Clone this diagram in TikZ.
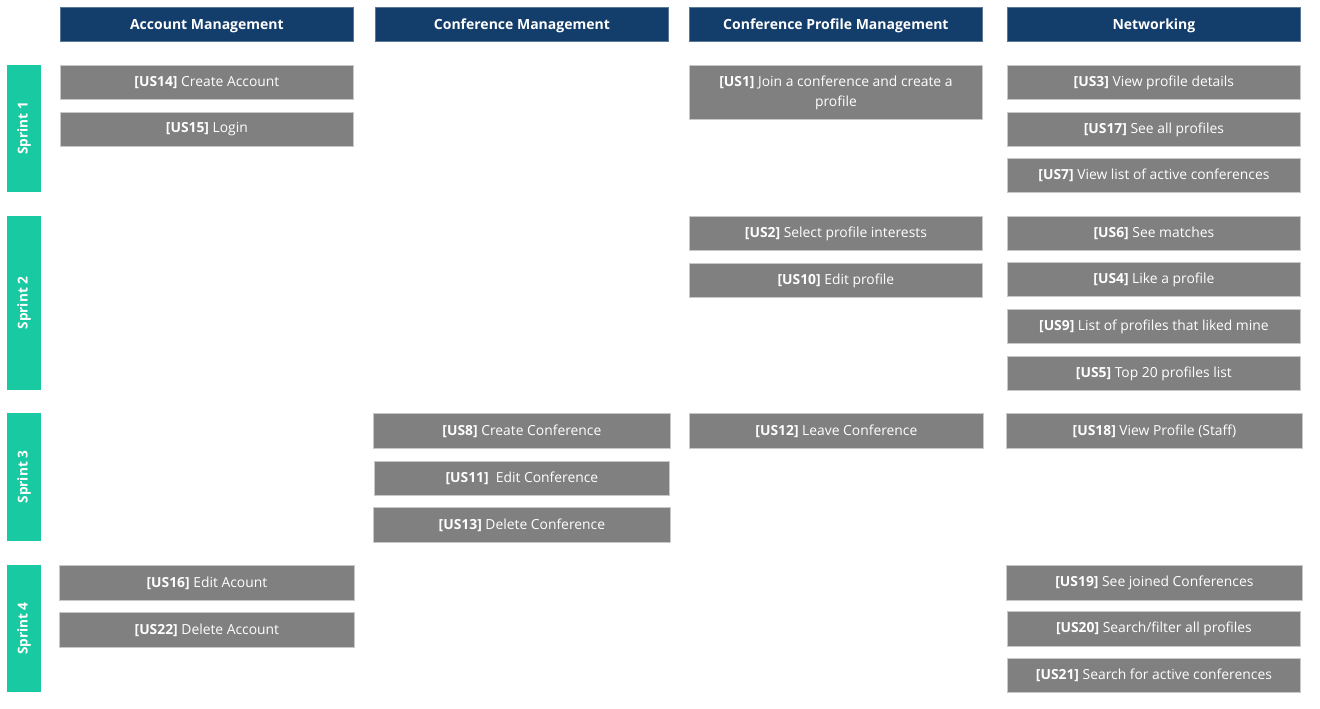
\documentclass[tikz,border=0pt]{standalone}
\usepackage{fontspec}
\setmainfont{Open Sans}
\definecolor{headblue}{HTML}{133D6B}
\definecolor{sprintgreen}{HTML}{19C9A1}
\definecolor{storygray}{HTML}{808080}
\definecolor{edgegray}{HTML}{C8C8C8}
\begin{document}
\begin{tikzpicture}[x=0.75pt,y=-0.75pt,
		head/.style={anchor=north west,fill=headblue,draw=headblue!70!white,line width=0.6pt,text=white,font=\bfseries\fontsize{10.5}{12}\selectfont,minimum width=219.75pt,minimum height=25.5pt,inner sep=0pt,text height=10pt,text depth=2.5pt},
		story/.style={anchor=north west,fill=storygray,draw=edgegray,line width=0.6pt,text=white,font=\fontsize{10.4}{15}\selectfont,minimum width=219.75pt,minimum height=25.5pt,inner sep=0pt,align=center},
		sprint/.style={fill=sprintgreen,text=white,rotate=90,font=\bfseries\fontsize{10.2}{11}\selectfont,minimum height=25.5pt,inner sep=0pt}]
				\useasboundingbox (0,0) rectangle (1320,709);
				% column heads
				\node[head] (hAcc) at (60,7) {Account Management};
				\node[head] (hConf) at (375,7) {Conference Management};
				\node[head] (hProf) at (689,7) {Conference Profile Management};
				\node[head] (hNet) at (1007,7) {Networking};
				% sprints
				\node[sprint,minimum width=95.25pt] (s1) at (24,128.5) {Sprint 1};
				\node[sprint,minimum width=130.5pt] (s2) at (24,303) {Sprint 2};
				\node[sprint,minimum width=96pt] (s3) at (24,477) {Sprint 3};
				\node[sprint,minimum width=95.25pt] (s4) at (24,628.5) {Sprint 4};
				% account management
				\node[story] (us14) at (60,65) {\textbf{[US14]} Create Account};
				\node[story] (us15) at (60,112) {\textbf{[US15]} Login};
				\node[story,minimum width=221.25pt,minimum height=26.25pt] (us16) at (59,565) {\textbf{[US16]} Edit Acount};
				\node[story,minimum width=221.25pt,minimum height=26.25pt] (us22) at (59,612) {\textbf{[US22]} Delete Account};
				% conference management
				\node[story,minimum width=222.75pt,minimum height=26.25pt] (us8) at (373,413) {\textbf{[US8]} Create Conference};
				\node[story,minimum width=221.25pt] (us11) at (374,461) {\textbf{[US11]}\ \ Edit Conference};
				\node[story,minimum width=222.75pt,minimum height=26.25pt] (us13) at (373,507) {\textbf{[US13]} Delete Conference};
				% conference profile management
				\node[story,minimum height=40.5pt] (us1) at (689,65) {\textbf{[US1]} Join a conference and create a\\profile};
				\node[story] (us2) at (689,216) {\textbf{[US2]} Select profile interests};
				\node[story] (us10) at (689,263) {\textbf{[US10]} Edit profile};
				\node[story,minimum width=220.5pt,minimum height=26.25pt] (us12) at (689,413) {\textbf{[US12]} Leave Conference};
				% networking
				\node[story] (us3) at (1007,65) {\textbf{[US3]} View profile details};
				\node[story] (us17) at (1007,112) {\textbf{[US17]} See all profiles};
				\node[story] (us7) at (1007,158) {\textbf{[US7]} View list of active conferences};
				\node[story] (us6) at (1007,216) {\textbf{[US6]} See matches};
				\node[story] (us4) at (1007,262) {\textbf{[US4]} Like a profile};
				\node[story] (us9) at (1007,309) {\textbf{[US9]} List of profiles that liked mine};
				\node[story] (us5) at (1007,356) {\textbf{[US5]} Top 20 profiles list};
				\node[story,minimum width=222pt,minimum height=26.25pt] (us18) at (1006,413) {\textbf{[US18]} View Profile (Staff)};
				\node[story,minimum width=222pt,minimum height=26.25pt] (us19) at (1006,565) {\textbf{[US19]} See joined Conferences};
				\node[story,minimum height=26.25pt] (us20) at (1007,611) {\textbf{[US20]} Search/filter all profiles};
				\node[story] (us21) at (1007,658) {\textbf{[US21]} Search for active conferences};
\end{tikzpicture}
\end{document}
